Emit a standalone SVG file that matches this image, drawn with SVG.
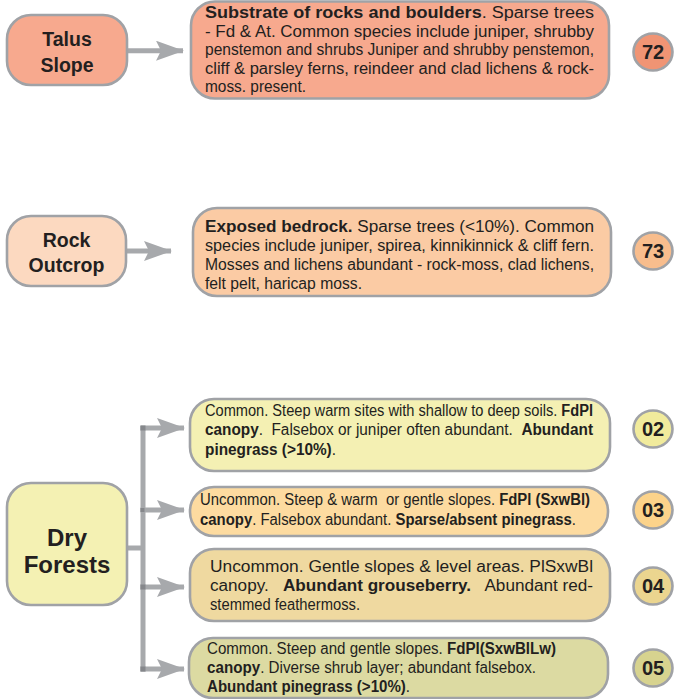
<svg xmlns="http://www.w3.org/2000/svg" width="674" height="699" viewBox="0 0 674 699">
  <defs>
    <style>
      .box { stroke: #a0a2a6; stroke-width: 2.6; }
      .label { font-family: "Liberation Sans", Arial, sans-serif; font-weight: bold; fill: #231f20; text-anchor: middle; }
      .desc { font-family: "Liberation Sans", Arial, sans-serif; font-size: 16px; fill: #231f20; }
      .num { font-family: "Liberation Sans", Arial, sans-serif; font-size: 20px; font-weight: bold; fill: #231f20; text-anchor: middle; }
      .b { font-weight: bold; }
      .link { stroke: #a7a9ac; stroke-width: 5; fill: none; }
      .joint { fill: #85878b; }
    </style>
    <marker id="head" viewBox="0 0 28 20" refX="27" refY="10" markerWidth="28" markerHeight="20" markerUnits="userSpaceOnUse" orient="auto">
      <path d="M0,0 L28,10 L0,20 L5,10 Z" fill="#a7a9ac"/>
    </marker>
  </defs>

  <!-- connectors -->
  <g id="connectors">
    <line class="link" x1="127" y1="50.7" x2="183" y2="50.7" marker-end="url(#head)"/>
    <line class="link" x1="127" y1="251" x2="171" y2="251" marker-end="url(#head)"/>
    <line class="link" x1="127" y1="548" x2="143" y2="548"/>
    <line class="link" x1="143" y1="426" x2="143" y2="671.5"/>
    <line class="link" x1="140.5" y1="428" x2="184" y2="428" marker-end="url(#head)"/>
    <line class="link" x1="140.5" y1="510" x2="184" y2="510" marker-end="url(#head)"/>
    <line class="link" x1="140.5" y1="587" x2="184" y2="587" marker-end="url(#head)"/>
    <line class="link" x1="140.5" y1="669" x2="184" y2="669" marker-end="url(#head)"/>
    <rect class="joint" x="140.5" y="425.5" width="5" height="5"/>
    <rect class="joint" x="140.5" y="508" width="4" height="4"/>
    <rect class="joint" x="140.5" y="584.5" width="5" height="5"/>
    <rect class="joint" x="140.5" y="666.5" width="5" height="5"/>
  </g>

  <!-- Talus Slope -->
  <g id="talus-slope">
    <rect class="box" x="7" y="15" width="120" height="70" rx="24" fill="#f7a98e"/>
    <text class="label" x="67" y="46" font-size="19.5">Talus</text>
    <text class="label" x="67" y="72" font-size="19.5">Slope</text>
  </g>
  <g id="talus-desc">
    <rect class="box" x="191" y="1.5" width="418" height="97" rx="24" fill="#f7a98e"/>
    <text class="desc" x="205" y="18" textLength="389" lengthAdjust="spacingAndGlyphs"><tspan class="b">Substrate of rocks and boulders</tspan>. Sparse trees</text>
    <text class="desc" x="205" y="36.5" textLength="389" lengthAdjust="spacingAndGlyphs">- Fd &amp; At. Common species include juniper, shrubby</text>
    <text class="desc" x="205" y="55" textLength="389" lengthAdjust="spacingAndGlyphs">penstemon and shrubs Juniper and shrubby penstemon,</text>
    <text class="desc" x="205" y="73.5" textLength="389" lengthAdjust="spacingAndGlyphs">cliff &amp; parsley ferns, reindeer and clad lichens &amp; rock-</text>
    <text class="desc" x="205" y="92" textLength="101" lengthAdjust="spacingAndGlyphs">moss. present.</text>
  </g>
  <g id="unit-72">
    <ellipse class="box" cx="653" cy="52" rx="19.5" ry="18.5" fill="#f09474"/>
    <text class="num" x="653" y="59">72</text>
  </g>

  <!-- Rock Outcrop -->
  <g id="rock-outcrop">
    <rect class="box" x="7" y="216" width="119" height="70" rx="24" fill="#fcd9c0"/>
    <text class="label" x="66.5" y="246.5" font-size="19.5">Rock</text>
    <text class="label" x="66.5" y="272" font-size="19.5">Outcrop</text>
  </g>
  <g id="rock-desc">
    <rect class="box" x="193" y="208" width="418" height="88" rx="24" fill="#fbcba4"/>
    <text class="desc" x="205" y="232" textLength="389" lengthAdjust="spacingAndGlyphs"><tspan class="b">Exposed bedrock.</tspan> Sparse trees (&lt;10%). Common</text>
    <text class="desc" x="205" y="251" textLength="389" lengthAdjust="spacingAndGlyphs">species include juniper, spirea, kinnikinnick &amp; cliff fern.</text>
    <text class="desc" x="205" y="270" textLength="389" lengthAdjust="spacingAndGlyphs">Mosses and lichens abundant - rock-moss, clad lichens,</text>
    <text class="desc" x="205" y="289" textLength="157" lengthAdjust="spacingAndGlyphs">felt pelt, haricap moss.</text>
  </g>
  <g id="unit-73">
    <ellipse class="box" cx="653" cy="251" rx="19.5" ry="18.5" fill="#f8bd8d"/>
    <text class="num" x="653" y="258">73</text>
  </g>

  <!-- Dry Forests -->
  <g id="dry-forests">
    <rect class="box" x="7" y="483" width="120" height="122" rx="24" fill="#f4f1b3"/>
    <text class="label" x="67" y="546" font-size="24">Dry</text>
    <text class="label" x="67" y="573" font-size="24">Forests</text>
  </g>

  <g id="desc-02">
    <rect class="box" x="190" y="399" width="420" height="72" rx="24" fill="#f4f0b3"/>
    <text class="desc" x="205" y="416" textLength="388" lengthAdjust="spacingAndGlyphs">Common. Steep warm sites with shallow to deep soils. <tspan class="b">FdPl</tspan></text>
    <text class="desc" x="205" y="435" textLength="388" lengthAdjust="spacingAndGlyphs" xml:space="preserve"><tspan class="b">canopy</tspan>.  Falsebox or juniper often abundant.  <tspan class="b">Abundant</tspan></text>
    <text class="desc" x="205" y="455" textLength="131" lengthAdjust="spacingAndGlyphs"><tspan class="b">pinegrass (&gt;10%)</tspan>.</text>
  </g>
  <g id="unit-02">
    <ellipse class="box" cx="653" cy="429" rx="19.5" ry="18.5" fill="#f1eb9c"/>
    <text class="num" x="653" y="436">02</text>
  </g>

  <g id="desc-03">
    <rect class="box" x="190" y="487" width="418" height="49" rx="24" fill="#fddba0"/>
    <text class="desc" x="200" y="505" textLength="390" lengthAdjust="spacingAndGlyphs" xml:space="preserve">Uncommon. Steep &amp; warm  or gentle slopes. <tspan class="b">FdPl (SxwBl)</tspan></text>
    <text class="desc" x="200" y="525" textLength="376" lengthAdjust="spacingAndGlyphs"><tspan class="b">canopy</tspan>. Falsebox abundant. <tspan class="b">Sparse/absent pinegrass</tspan>.</text>
  </g>
  <g id="unit-03">
    <ellipse class="box" cx="653" cy="510" rx="19.5" ry="18.5" fill="#fcd38a"/>
    <text class="num" x="653" y="517">03</text>
  </g>

  <g id="desc-04">
    <rect class="box" x="190" y="549" width="420" height="72" rx="24" fill="#efd9a0"/>
    <text class="desc" x="210" y="572" textLength="383" lengthAdjust="spacingAndGlyphs">Uncommon. Gentle slopes &amp; level areas. PlSxwBl</text>
    <text class="desc" x="210" y="591" textLength="383" lengthAdjust="spacingAndGlyphs" xml:space="preserve">canopy.   <tspan class="b">Abundant grouseberry.</tspan>   Abundant red-</text>
    <text class="desc" x="210" y="610" textLength="150" lengthAdjust="spacingAndGlyphs">stemmed feathermoss.</text>
  </g>
  <g id="unit-04">
    <ellipse class="box" cx="653" cy="586" rx="19.5" ry="18.5" fill="#ebd58f"/>
    <text class="num" x="653" y="593">04</text>
  </g>

  <g id="desc-05">
    <rect class="box" x="189" y="638" width="419" height="60" rx="24" fill="#dcdaa2"/>
    <text class="desc" x="207" y="654" textLength="349" lengthAdjust="spacingAndGlyphs">Common. Steep and gentle slopes. <tspan class="b">FdPl(SxwBlLw)</tspan></text>
    <text class="desc" x="207" y="673" textLength="329" lengthAdjust="spacingAndGlyphs"><tspan class="b">canopy</tspan>. Diverse shrub layer; abundant falsebox.</text>
    <text class="desc" x="207" y="692" textLength="203" lengthAdjust="spacingAndGlyphs"><tspan class="b">Abundant pinegrass (&gt;10%)</tspan>.</text>
  </g>
  <g id="unit-05">
    <ellipse class="box" cx="653" cy="668" rx="19.5" ry="18.5" fill="#d7d38f"/>
    <text class="num" x="653" y="675">05</text>
  </g>
</svg>
